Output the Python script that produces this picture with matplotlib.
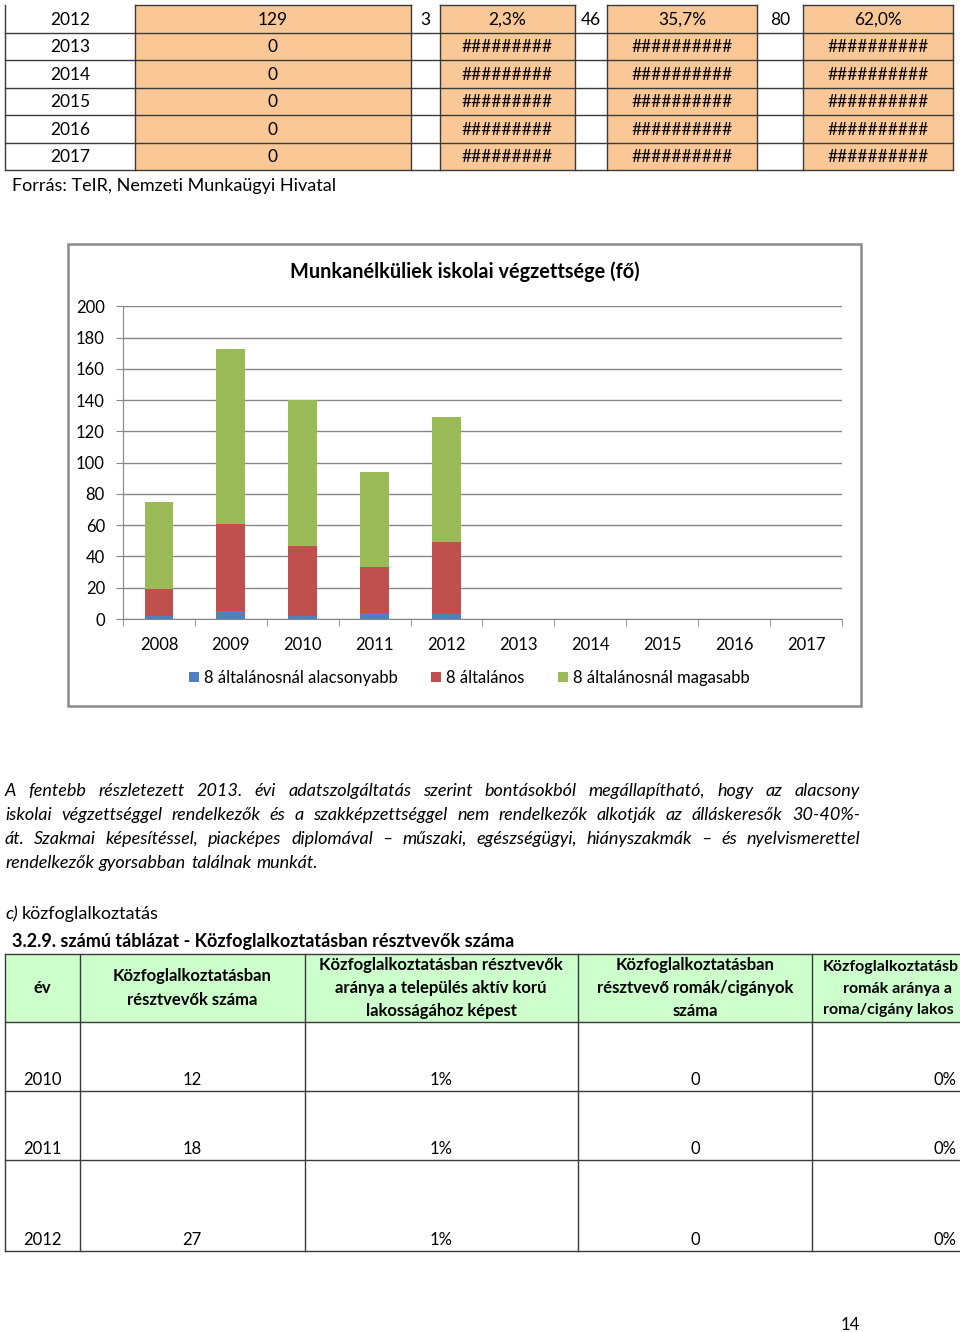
import matplotlib
matplotlib.use("Agg")
import matplotlib.pyplot as plt
from matplotlib.patches import Rectangle

plt.rcParams['font.family'] = ['Lato', 'DejaVu Sans']

# ---- data ----
top_years = ["2012", "2013", "2014", "2015", "2016", "2017"]
top_total = ["129", "0", "0", "0", "0", "0"]
top_below = ["3", "", "", "", "", ""]
top_below_pct = ["2,3%", "#########", "#########", "#########", "#########", "#########"]
top_elem = ["46", "", "", "", "", ""]
top_elem_pct = ["35,7%", "##########", "##########", "##########", "##########", "##########"]
top_above = ["80", "", "", "", "", ""]
top_above_pct = ["62,0%", "##########", "##########", "##########", "##########", "##########"]

years = ["2008", "2009", "2010", "2011", "2012", "2013", "2014", "2015", "2016", "2017"]
below8 = [2, 5, 2, 4, 3, 0, 0, 0, 0, 0]
elem8 = [17, 56, 45, 29, 46, 0, 0, 0, 0, 0]
above8 = [56, 112, 93, 61, 80, 0, 0, 0, 0, 0]
series_names = ["8 általánosnál alacsonyabb", "8 általános", "8 általánosnál magasabb"]

kf_years = ["2010", "2011", "2012"]
kf_count = ["12", "18", "27"]
kf_ratio = ["1%", "1%", "1%"]
kf_roma = ["0", "0", "0"]
kf_roma_ratio = ["0%", "0%", "0%"]
kf_headers = ["év",
              "Közfoglalkoztatásban\nrésztvevők száma",
              "Közfoglalkoztatásban résztvevők\naránya a település aktív korú\nlakosságához képest",
              "Közfoglalkoztatásban\nrésztvevő romák/cigányok\nszáma"]
# last header column is cut by the page edge; only the visible part is shown
kf_last_header = ["Közfoglalkoztatásb", "romák aránya a", "roma/cigány lakos"]

paragraph = [
    "A fentebb részletezett 2013. évi adatszolgáltatás szerint bontásokból megállapítható, hogy az alacsony",
    "iskolai végzettséggel rendelkezők és a szakképzettséggel nem rendelkezők alkotják az álláskeresők 30-40%-",
    "át. Szakmai képesítéssel, piacképes diplomával – műszaki, egészségügyi, hiányszakmák – és nyelvismerettel",
    "rendelkezők gyorsabban találnak munkát.",
]

fig = plt.figure(figsize=(9.6, 13.32), dpi=100)
page = fig.add_axes([0, 0, 1, 1])
page.set_xlim(0, 960)
page.set_ylim(1332, 0)
page.axis("off")

line_c = "#3a3a3a"
orange = "#FAC896"

# ---- top table ----
cols = [5, 135, 411, 440, 575, 607, 757, 803, 953]
orange_cols = [1, 3, 5, 7]
row_h = 27.5
y0 = 5
for ci in orange_cols:
    page.add_patch(Rectangle((cols[ci], y0), cols[ci + 1] - cols[ci], row_h * 6,
                             facecolor=orange, edgecolor="none"))
    page.plot([cols[ci], cols[ci + 1]], [y0, y0], color=line_c, lw=1)
for r in range(1, 7):
    page.plot([cols[0], cols[-1]], [y0 + r * row_h] * 2, color=line_c, lw=1)
for c in cols:
    page.plot([c, c], [y0, y0 + 6 * row_h], color=line_c, lw=1)
table_cols = [top_years, top_total, top_below, top_below_pct, top_elem,
              top_elem_pct, top_above, top_above_pct]
for ci, col in enumerate(table_cols):
    xc = (cols[ci] + cols[ci + 1]) / 2
    for r, val in enumerate(col):
        page.text(xc, y0 + r * row_h + row_h / 2 + 1, val, ha="center", va="center",
                  fontsize=12.5, color="black")
page.text(12, 186, "Forrás: TeIR, Nemzeti Munkaügyi Hivatal", ha="left", va="center",
          fontsize=13)

# ---- chart frame ----
page.add_patch(Rectangle((68, 244), 793, 462, facecolor="white", edgecolor="#8a8a8a", lw=1.8))
page.text(465, 272, "Munkanélküliek iskolai végzettsége (fő)", ha="center", va="center",
          fontsize=14.3, fontweight="bold")

ax = fig.add_axes([123 / 960, 1 - 619 / 1332, (842 - 123) / 960, (619 - 306.3) / 1332])
x = range(len(years))
colors = ["#4F81BD", "#C0504D", "#9BBB59"]
bottom = [0] * len(years)
handles = []
for vals, col, name in zip([below8, elem8, above8], colors, series_names):
    b = ax.bar(x, vals, bottom=bottom, width=0.4, color=col, label=name, zorder=3)
    handles.append(b)
    bottom = [bb + v for bb, v in zip(bottom, vals)]
ax.set_xlim(-0.5, len(years) - 0.5)
ax.set_ylim(0, 200)
ax.set_yticks(range(0, 201, 20))
ax.set_xticks(list(x))
ax.set_xticklabels(years)
ax.set_xticks([i - 0.5 for i in range(len(years) + 1)], minor=True)
ax.tick_params(axis="x", which="major", length=0, pad=13, labelsize=12)
ax.tick_params(axis="x", which="minor", length=5, color="#868686", direction="out")
ax.tick_params(axis="y", length=5, color="#868686", labelsize=12, pad=8)
ax.grid(axis="y", color="#868686", lw=1, zorder=0)
for s in ["top", "right"]:
    ax.spines[s].set_visible(False)
ax.spines["left"].set_color("#868686")
ax.spines["bottom"].set_color("#868686")
ax.set_facecolor("none")

fig.legend(handles=handles, labels=series_names, loc="center", ncol=3,
           bbox_to_anchor=(469 / 960, 1 - 678 / 1332), frameon=False, fontsize=12,
           handlelength=0.6, handleheight=0.6, handletextpad=0.3, columnspacing=2.0)

# ---- justified paragraph ----
fig.canvas.draw()
renderer = fig.canvas.get_renderer()
x_left, x_right = 5, 860
for li, line in enumerate(paragraph):
    yl = 791 + li * 24
    words = line.split(" ")
    objs = [page.text(0, yl, w, ha="left", va="center", fontsize=13, style="italic")
            for w in words]
    widths = [o.get_window_extent(renderer).width for o in objs]
    if li < len(paragraph) - 1:
        gap = (x_right - x_left - sum(widths)) / (len(words) - 1)
    else:
        gap = 5
    xp = x_left
    for o, w in zip(objs, widths):
        o.set_x(xp)
        xp += w + gap

t_c = page.text(5, 914, "c)", ha="left", va="center", fontsize=13, style="italic")
wc = t_c.get_window_extent(renderer).width
page.text(5 + wc + 4, 914, "közfoglalkoztatás", ha="left", va="center", fontsize=13)
page.text(12, 942, "3.2.9. számú táblázat - Közfoglalkoztatásban résztvevők száma",
          ha="left", va="center", fontsize=13, fontweight="bold")

# ---- bottom table ----
bcols = [5, 80, 305, 578, 812]
hy0, hy1 = 954, 1022
rows_y = [1022, 1091, 1160, 1251]
page.add_patch(Rectangle((5, hy0), 960, hy1 - hy0, facecolor="#CCFFCC", edgecolor="none"))
for yy in [hy0] + rows_y:
    page.plot([5, 960], [yy, yy], color=line_c, lw=1)
for c in bcols:
    page.plot([c, c], [hy0, rows_y[-1]], color=line_c, lw=1)
hdr_x = [42.5, 192, 441, 695]
for xc, h in zip(hdr_x, kf_headers):
    page.text(xc, 988, h, ha="center", va="center", fontsize=12, fontweight="bold",
              linespacing=1.55)
for i, (xl, part) in enumerate(zip([823, 843, 823], kf_last_header)):
    page.text(xl, 967 + i * 21.5, part, ha="left", va="center", fontsize=11.5,
              fontweight="bold")
for r in range(len(kf_years)):
    yv = rows_y[r + 1] - 11
    page.text(42.5, yv, kf_years[r], ha="center", va="center", fontsize=12)
    page.text(192, yv, kf_count[r], ha="center", va="center", fontsize=12)
    page.text(441, yv, kf_ratio[r], ha="center", va="center", fontsize=12)
    page.text(695, yv, kf_roma[r], ha="center", va="center", fontsize=12)
    page.text(957, yv, kf_roma_ratio[r], ha="right", va="center", fontsize=12)

page.text(850, 1325, "14", ha="center", va="center", fontsize=12)

fig.savefig("out.png", dpi=100)
